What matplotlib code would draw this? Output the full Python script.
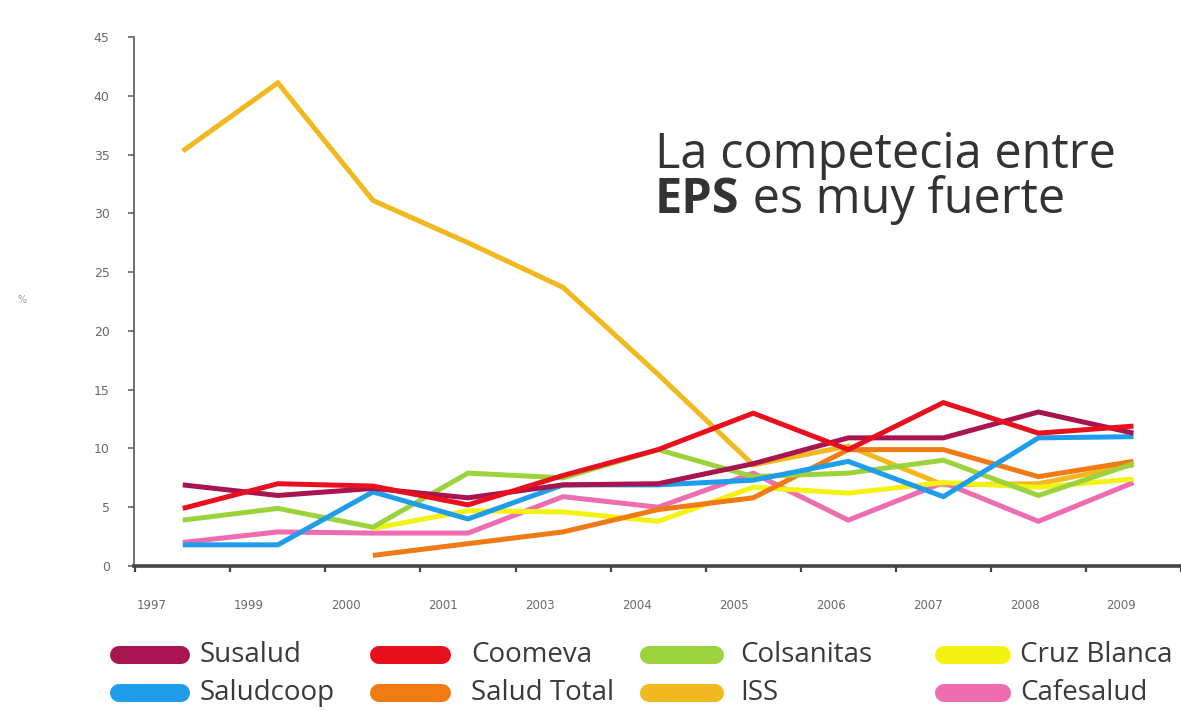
import numpy as np
import matplotlib
matplotlib.use("Agg")
import matplotlib.pyplot as plt
from matplotlib.lines import Line2D
from matplotlib.transforms import ScaledTranslation

years = ['1997', '1999', '2000', '2001', '2003', '2004', '2005', '2006', '2007', '2008', '2009']
nan = np.nan
susalud = [6.9, 6.0, 6.6, 5.8, 6.9, 7.0, 8.7, 10.9, 10.9, 13.1, 11.3]
coomeva = [4.9, 7.0, 6.8, 5.2, 7.7, 9.9, 13.0, 9.9, 13.9, 11.3, 11.9]
colsanitas = [3.9, 4.9, 3.3, 7.9, 7.5, 9.9, 7.6, 7.9, 9.0, 6.0, 8.7]
cruz_blanca = [nan, nan, 3.2, 4.7, 4.6, 3.8, 6.7, 6.2, 7.1, 6.7, 7.4]
saludcoop = [1.8, 1.8, 6.3, 4.0, 6.9, 6.9, 7.3, 8.9, 5.9, 10.9, 11.0]
salud_total = [nan, nan, 0.9, 1.9, 2.9, 4.8, 5.8, 9.9, 9.9, 7.6, 8.9]
iss = [35.3, 41.1, 31.1, 27.5, 23.7, 16.3, 8.6, 10.2, 6.9, 7.0, 8.6]
cafesalud = [2.0, 2.9, 2.8, 2.8, 5.9, 5.0, 7.9, 3.9, 7.1, 3.8, 7.1]

names = ['Susalud', 'Coomeva', 'Colsanitas', 'Cruz Blanca',
         'Saludcoop', 'Salud Total', 'ISS', 'Cafesalud']
series = [susalud, coomeva, colsanitas, cruz_blanca,
          saludcoop, salud_total, iss, cafesalud]
colors = ['#A8144F', '#E8101F', '#9CD33C', '#F4F212',
          '#1F9CEA', '#F07A14', '#F2B820', '#EE6CB0']
yticks = list(range(0, 50, 5))

W, H = 1181, 711
fig = plt.figure(figsize=(W / 100, H / 100), dpi=100)
fig.patch.set_facecolor('white')
ax = fig.add_axes([134 / W, (711 - 566) / H, (1181 - 134) / W, (566 - 37) / H])

x = np.arange(len(years))
draw_order = [6, 7, 3, 5, 2, 4, 0, 1]
for i in draw_order:
    ax.plot(x, series[i], color=colors[i], lw=3.6, solid_joinstyle='miter',
            solid_capstyle='butt', zorder=3)

ax.set_xlim(-0.513, 10.44)
ax.set_ylim(0, 45)
ax.set_yticks(yticks)
ax.set_yticklabels([str(v) for v in yticks])
ax.set_xticks(x)
ax.set_xticklabels(years)
ax.set_xticks(np.arange(-0.5, 10.6, 1.0), minor=True)

for s in ['top', 'right']:
    ax.spines[s].set_visible(False)
ax.spines['left'].set_color('#666666')
ax.spines['left'].set_linewidth(1.3)
ax.spines['bottom'].set_color('#444444')
ax.spines['bottom'].set_linewidth(2.6)
ax.spines['bottom'].set_zorder(4)

ax.tick_params(axis='y', direction='out', length=4.5, width=1.2, color='#666666',
               pad=13, labelsize=9, labelcolor='#6a6a6a')
ax.tick_params(axis='x', which='major', length=0, pad=24, labelsize=8.5,
               labelcolor='#6a6a6a')
ax.tick_params(axis='x', which='minor', direction='out', length=4, width=1.6,
               color='#444444')
for k, lab in enumerate(ax.get_xticklabels()):
    dx = (-31 + 1.9 * k) / 100.0
    lab.set_transform(lab.get_transform() + ScaledTranslation(dx, 0, fig.dpi_scale_trans))

fig.text(22 / W, 1 - 300 / H, '%', fontsize=7, color='#999999',
         ha='center', va='center')

# headline
tfont = 'Open Sans'
tsize = 35
fig.text(655 / W, 1 - 168 / H, 'La competecia entre', fontsize=tsize,
         family=tfont, color='#333333', ha='left', va='baseline')
t_eps = fig.text(655 / W, 1 - 213 / H, 'EPS', fontsize=tsize, family=tfont,
                 weight='bold', color='#333333', ha='left', va='baseline')
fig.canvas.draw()
bb = t_eps.get_window_extent()
fig.text(bb.x1 / W, 1 - 213 / H, ' es muy fuerte', fontsize=tsize, family=tfont,
         color='#333333', ha='left', va='baseline')

# legend
rows_y = [655, 693]
handle_x = [(110, 190), (370, 451), (640, 724), (935, 1011)]
text_x = [200, 471, 740, 1020]
lw_px = 18
for k, (name, col) in enumerate(zip(names, colors)):
    r, c = divmod(k, 4)
    x0, x1 = handle_x[c]
    y = 1 - rows_y[r] / H
    fig.add_artist(Line2D([(x0 + lw_px / 2) / W, (x1 - lw_px / 2) / W], [y, y],
                          transform=fig.transFigure, color=col,
                          lw=lw_px * 0.72, solid_capstyle='round'))
    fig.text(text_x[c] / W, y, name, fontsize=20, family=tfont,
             color='#3a3a3a', ha='left', va='center')

fig.savefig('out.png', dpi=100, facecolor='white')
